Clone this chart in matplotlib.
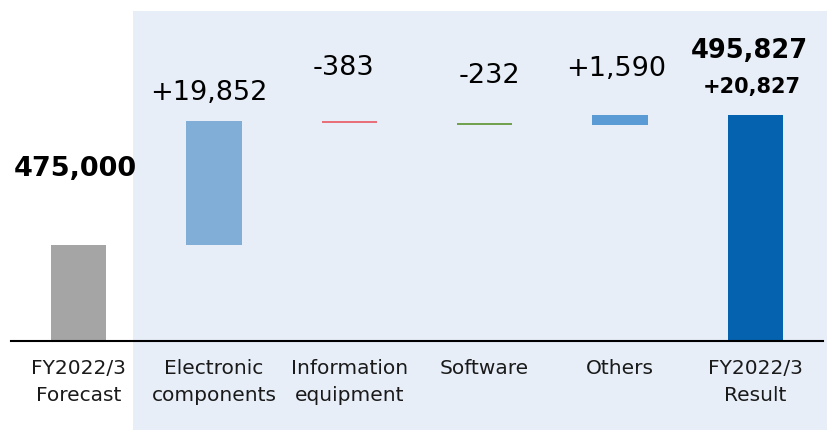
import numpy as np
import matplotlib
matplotlib.use("Agg")
import matplotlib.pyplot as plt
from matplotlib.patches import Rectangle

categories = ["FY2022/3\nForecast", "Electronic\ncomponents", "Information\nequipment",
              "Software", "Others", "FY2022/3\nResult"]
forecast = 475000
deltas = [19852, -383, -232, 1590]
result = 495827
value_labels = ["475,000", "+19,852", "-383", "-232", "+1,590", "495,827"]
result_diff_label = "+20,827"

colors = ["#A5A5A5", "#80AED7", "#E8707A", "#70A24F", "#5B9BD5", "#0562AE"]

plt.rcParams['font.family'] = ['DejaVu Sans']

fig = plt.figure(figsize=(8.27, 4.30), dpi=100)
W, H = 827, 430
# light-blue panel
fig.patches.append(Rectangle((133 / W, 0), 1 - 133 / W, (430 - 11) / H,
                             transform=fig.transFigure, facecolor="#E7EEF8",
                             edgecolor="none", zorder=-1))
ax = fig.add_axes([11 / W, (430 - 341) / H, 812 / W, 330 / H])
ax.set_facecolor("none")
ax.set_zorder(1)

cum = np.cumsum([forecast] + deltas)
starts = np.concatenate([[0], cum[:-1], [0]])
ends = np.concatenate([[forecast], cum[1:], [result]])
bottoms = np.minimum(starts, ends)
heights = np.abs(ends - starts)
x = np.arange(len(categories))
ax.bar(x, heights, bottom=bottoms, width=0.41, color=colors, zorder=2)

ax.set_xlim(-0.5, 5.5)
ax.set_ylim(459600, 512500)
for s in ["top", "left", "right"]:
    ax.spines[s].set_visible(False)
ax.spines["bottom"].set_linewidth(1.5)
ax.spines["bottom"].set_color("black")
ax.set_yticks([])
ax.set_xticks(x)
ax.set_xticklabels(categories, fontsize=14.5, linespacing=1.5, color="#1a1a1a")
ax.tick_params(axis="x", length=0, pad=13)

tops = np.maximum(starts, ends)
# label offsets (pixels) relative to bar top: (dx, dy to baseline)
offs = [(-3, 69), (-5.5, 21), (-5.5, 46), (5, 40), (-3.5, 39), (-5.5, 57)]
weights = ["bold", "normal", "normal", "normal", "normal", "bold"]
sizes = [19.5, 19.5, 19.5, 19.5, 19.5, 18.5]
for i, lab in enumerate(value_labels):
    ax.annotate(lab, xy=(x[i], tops[i]), xytext=offs[i], textcoords="offset pixels",
                ha="center", va="baseline", fontsize=sizes[i], fontweight=weights[i],
                color="black", zorder=3, annotation_clip=False)
ax.annotate(result_diff_label, xy=(x[-1], tops[-1]), xytext=(-3.5, 22),
            textcoords="offset pixels", ha="center", va="baseline", fontsize=15,
            fontweight="bold", color="black", zorder=3, annotation_clip=False)

fig.savefig("out.png", dpi=100)
